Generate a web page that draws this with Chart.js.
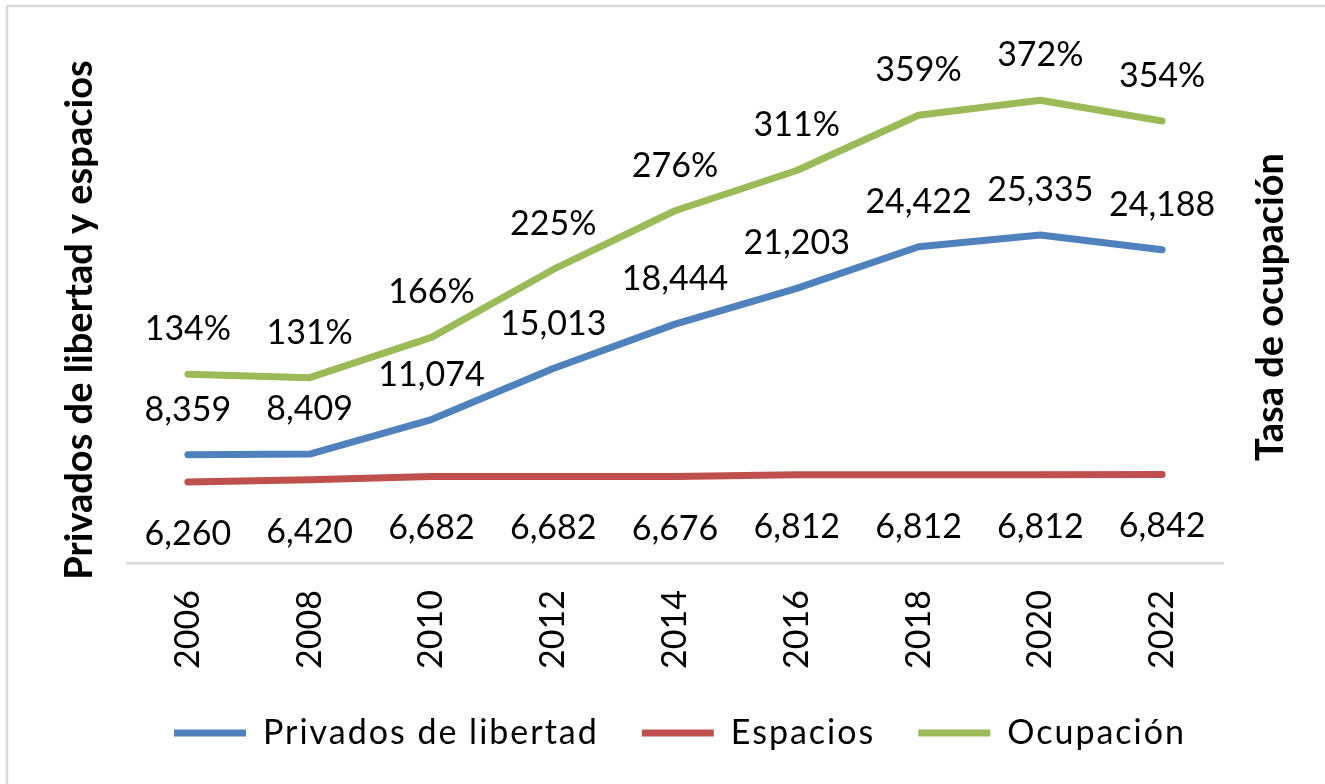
<!DOCTYPE html>
<html>
<head>
<meta charset="utf-8">
<script src="https://cdn.jsdelivr.net/npm/chart.js@4.4.0/dist/chart.umd.min.js"></script>
<style>
html,body{margin:0;padding:0;background:#fff;overflow:hidden;}
#wrap{width:1325px;height:784px;position:relative;}
</style>
</head>
<body>
<div id="wrap"><canvas id="c" width="1325" height="784"></canvas></div>
<script>
// ---- data ----
const years = ['2006','2008','2010','2012','2014','2016','2018','2020','2022'];
const privados = [8359, 8409, 11074, 15013, 18444, 21203, 24422, 25335, 24188];
const espacios = [6260, 6420, 6682, 6682, 6676, 6812, 6812, 6812, 6842];
const ocupacion = [134, 131, 166, 225, 276, 311, 359, 372, 354];
const seriesNames = ['Privados de libertad', 'Espacios', 'Ocupación'];
const leftTitle = 'Privados de libertad y espacios';
const rightTitle = 'Tasa de ocupación';

const FONT = 'Lato';
Chart.defaults.font.family = FONT;
Chart.defaults.color = '#000';

const fmtNum = v => v.toLocaleString('en-US');
const fmtPct = v => v + '%';

const bgPlugin = {
  id: 'bg',
  beforeDraw(chart) {
    const ctx = chart.ctx;
    ctx.save();
    ctx.fillStyle = '#fff';
    ctx.fillRect(0, 0, chart.width, chart.height);
    ctx.strokeStyle = '#d9d9d9';
    ctx.lineWidth = 2.5;
    ctx.strokeRect(7, 6, chart.width + 20, chart.height + 20);
    ctx.restore();
  }
};

const labelPlugin = {
  id: 'valueLabels',
  afterDatasetsDraw(chart) {
    const ctx = chart.ctx;
    ctx.save();
    ctx.font = '34px ' + FONT;
    ctx.fillStyle = '#000';
    ctx.textAlign = 'center';
    ctx.textBaseline = 'middle';
    chart.data.datasets.forEach((ds, i) => {
      const meta = chart.getDatasetMeta(i);
      meta.data.forEach((pt, j) => {
        ctx.fillText(ds.fmt(ds.data[j]), pt.x, pt.y + ds.labelOffset);
      });
    });
    ctx.restore();
  }
};

const titlePlugin = {
  id: 'axisTitles',
  afterDraw(chart) {
    const ctx = chart.ctx;
    const draw = (text, x, y) => {
      ctx.save();
      ctx.font = 'bold 38px ' + FONT;
      ctx.fillStyle = '#000';
      ctx.textAlign = 'center';
      ctx.textBaseline = 'middle';
      ctx.translate(x, y);
      ctx.rotate(-Math.PI / 2);
      ctx.fillText(text, 0, 0);
      ctx.restore();
    };
    draw(leftTitle, 80, 320);
    draw(rightTitle, 1271, 307);
  }
};

// legend text in the reference is slightly letter-spaced
const legendSpacing = {
  id: 'legendSpacing',
  afterInit(chart) {
    const lg = chart.legend;
    if (!lg) return;
    ['fit', 'draw'].forEach(name => {
      const orig = lg[name].bind(lg);
      lg[name] = function (...a) {
        const ctx = chart.ctx;
        const prev = ctx.letterSpacing;
        ctx.letterSpacing = '2px';
        try { return orig(...a); } finally { ctx.letterSpacing = prev || '0px'; }
      };
    });
  }
};

const lineDs = (label, data, color, axis, fmt, off) => ({
  label, data, yAxisID: axis,
  borderColor: color, backgroundColor: color,
  borderWidth: 7, borderCapStyle: 'round', borderJoinStyle: 'round',
  pointRadius: 0, pointHoverRadius: 0, tension: 0, fill: false,
  fmt, labelOffset: off
});

const hiddenAxis = (pos, min, max, w) => ({
  type: 'linear', position: pos, min, max,
  ticks: { display: false },
  grid: { display: false, drawTicks: false },
  border: { display: false },
  afterFit(s) { s.width = w; }
});

new Chart(document.getElementById('c'), {
  type: 'line',
  data: {
    labels: years,
    datasets: [
      lineDs(seriesNames[0], privados, '#4F81BD', 'yL', fmtNum, -45),
      lineDs(seriesNames[1], espacios, '#C0504D', 'yL', fmtNum, 52),
      lineDs(seriesNames[2], ocupacion, '#9BBB59', 'yR', fmtPct, -45)
    ]
  },
  options: {
    responsive: false,
    animation: false,
    events: [],
    layout: { padding: { top: 45, left: 35, right: 0, bottom: 24 } },
    scales: {
      x: {
        offset: true,
        grid: { display: false, drawTicks: false, tickLength: 0 },
        border: { display: true, color: '#d9d9d9', width: 2.5 },
        ticks: { font: { size: 34 }, color: '#000', minRotation: 90, maxRotation: 90, padding: 27, autoSkip: false },
        afterFit(scale) { scale.height = 110; }
      },
      yL: hiddenAxis('left', 0, 40000, 92),
      yR: hiddenAxis('right', -30, 420, 102)
    },
    plugins: {
      legend: {
        position: 'bottom',
        labels: {
          font: { size: 34 }, color: '#000',
          usePointStyle: true, pointStyle: 'line', pointStyleWidth: 72,
          padding: 43
        }
      },
      tooltip: { enabled: false }
    }
  },
  plugins: [bgPlugin, labelPlugin, titlePlugin, legendSpacing]
});
</script>
</body>
</html>
